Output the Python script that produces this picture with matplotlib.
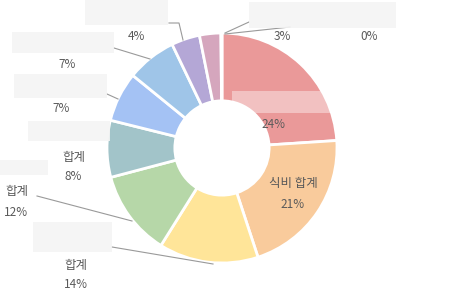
import matplotlib
matplotlib.use("Agg")
import matplotlib.pyplot as plt
from matplotlib.patches import Rectangle

plt.rcParams['font.family'] = ['Noto Sans CJK KR', 'DejaVu Sans']

# Data (clockwise from 12 o'clock)
names = ["", "식비 합계", "합계", "합계", "합계", "", "", "", "", ""]
values = [24, 21, 14, 12, 8, 7, 7, 4, 3, 0.15]
pct_labels = ["24%", "21%", "14%", "12%", "8%", "7%", "7%", "4%", "3%", "0%"]
colors = ["#EA9999", "#F9CB9C", "#FFE599", "#B6D7A8", "#A2C4C9",
          "#A4C2F4", "#9FC5E8", "#B4A7D6", "#D5A6BD", "#E6B8AF"]

W, H = 450, 295
fig = plt.figure(figsize=(W / 100, H / 100), dpi=100)
ax = fig.add_axes([0, 0, 1, 1])

cx, cy, R = 222, H - 148, 115
ax.pie(values, colors=colors, startangle=90, counterclock=False,
       center=(cx, cy), radius=R, frame=True,
       wedgeprops=dict(width=R * 0.59, edgecolor='white', linewidth=2))
ax.set_xlim(0, W)
ax.set_ylim(0, H)
ax.set_aspect('equal')
ax.axis('off')

tc = '#5a5a5a'
lc = '#9a9a9a'

def Y(y):
    return H - y

def box(x0, y0, x1, y1, fc='#f4f4f4', alpha=0.9):
    ax.add_patch(Rectangle((x0, Y(y1)), x1 - x0, y1 - y0, facecolor=fc,
                           edgecolor='none', alpha=alpha, zorder=3))

def line(pts):
    ax.plot([p[0] for p in pts], [Y(p[1]) for p in pts], color=lc, lw=0.8, zorder=2)

def txt(x, y, s, size=8.5):
    ax.text(x, Y(y), s, ha='center', va='center', color=tc, fontsize=size, zorder=4)

# label layout (pixel coordinates), keyed by slice index
# 0: red (inside)
box(232, 91, 342, 113, fc='#ffffff', alpha=0.4)
txt(273, 124, pct_labels[0])
# 1: orange (inside)
txt(293, 184, names[1], 9)
txt(293, 204, pct_labels[1])
# 2: yellow
line([(213, 264), (112, 247)])
box(33, 222, 112, 252)
txt(76, 266, names[2], 9)
txt(76, 285, pct_labels[2])
# 3: green
line([(132, 221), (37, 196)])
box(0, 160, 48, 175)
txt(17, 191, names[3], 9)
txt(16, 212, pct_labels[3])
# 4: teal
box(28, 121, 110, 141)
txt(74, 157, names[4], 9)
txt(73, 177, pct_labels[4])
# 5: blue
line([(118, 99), (107, 94)])
box(14, 74, 107, 98)
txt(61, 108, pct_labels[5])
# 6: light blue
line([(150, 59), (114, 48)])
box(12, 32, 114, 53)
txt(67, 64, pct_labels[6])
# 7: purple
line([(183, 40), (179, 23), (169, 23)])
box(85, 0, 168, 25)
txt(136, 37, pct_labels[7])
# 8 / 9: pink and 0%
line([(225, 33), (249, 22)])
line([(225, 34), (290, 27)])
box(249, 2, 396, 28)
txt(282, 37, pct_labels[8])
txt(369, 37, pct_labels[9])

fig.savefig("out.png", dpi=100)
